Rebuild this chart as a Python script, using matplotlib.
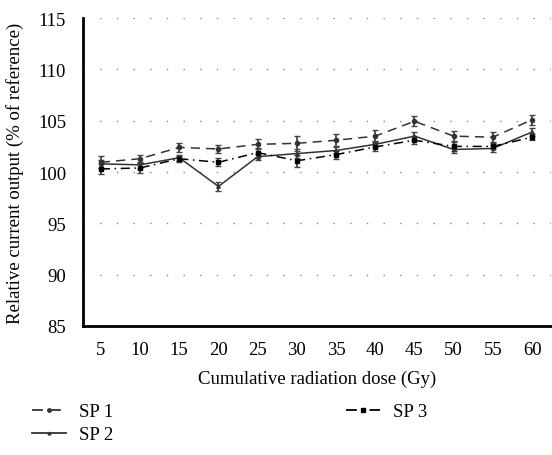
import numpy as np
import matplotlib
matplotlib.use("Agg")
import matplotlib.pyplot as plt
from matplotlib.lines import Line2D

plt.rcParams["font.family"] = ["Liberation Serif", "DejaVu Serif"]

dose = [5, 10, 15, 20, 25, 30, 35, 40, 45, 50, 55, 60]
sp1 = [100.95, 101.3, 102.4, 102.25, 102.7, 102.8, 103.1, 103.5, 104.95, 103.5, 103.4, 105.1]
sp2 = [100.8, 100.7, 101.4, 98.6, 101.5, 101.8, 102.1, 102.7, 103.5, 102.2, 102.3, 103.9]
sp3 = [100.3, 100.4, 101.3, 100.95, 101.9, 101.1, 101.7, 102.45, 103.1, 102.5, 102.5, 103.4]
sp1_err = [0.6, 0.4, 0.4, 0.4, 0.5, 0.7, 0.6, 0.6, 0.5, 0.5, 0.5, 0.5]
sp2_err = [0.4, 0.3, 0.3, 0.4, 0.3, 0.4, 0.3, 0.3, 0.4, 0.3, 0.3, 0.4]
sp3_err = [0.5, 0.5, 0.3, 0.4, 0.4, 0.6, 0.4, 0.4, 0.4, 0.4, 0.3, 0.3]

fig = plt.figure(figsize=(5.52, 4.56), dpi=100)
ax = fig.add_axes([0.150, 0.283, 0.848, 0.675])

series = [
    ("SP 1", sp1, sp1_err, (0, (6, 4)), "o", 3.0, "#333333"),
    ("SP 2", sp2, sp2_err, "-", "^", 2.5, "#333333"),
    ("SP 3", sp3, sp3_err, (0, (6, 3, 1, 3)), "s", 3.5, "black"),
]
handles = []
for label, vals, err, ls, mk, ms, col in series:
    ax.errorbar(dose, vals, yerr=err, color=col, ecolor="#444444",
                elinewidth=1.3, capsize=2, capthick=1.0,
                linestyle=ls, linewidth=1.1, marker=mk, markersize=ms)
    handles.append(Line2D([], [], color=col, linestyle=ls, linewidth=1.3,
                          marker=mk, markersize=ms - 0.5, label=label))

ax.set_xlim(2.7, 62.4)
ax.set_ylim(85, 115)
ax.set_xticks(dose)
ax.set_yticks(np.arange(85, 116, 5))
ax.tick_params(length=0, labelsize=13.5)
ax.tick_params(axis="y", pad=12)
ax.tick_params(axis="x", pad=11)
ax.yaxis.grid(True, linestyle=(0, (1, 11)), color="#888888", linewidth=1.0)
ax.set_axisbelow(True)
for s in ["top", "right"]:
    ax.spines[s].set_visible(False)
for s in ["left", "bottom"]:
    ax.spines[s].set_linewidth(2.0)

ax.set_xlabel("Cumulative radiation dose (Gy)", fontsize=13.5, labelpad=8)
ax.set_ylabel("Relative current output (% of reference)", fontsize=13.5, labelpad=10)

fig.legend(handles=handles, ncol=2, loc="upper left",
           bbox_to_anchor=(0.045, 0.13), frameon=False, fontsize=13.5,
           handlelength=1.8, handletextpad=0.7, columnspacing=12.4,
           labelspacing=0.3, borderaxespad=0)

fig.savefig("out.png", dpi=100)
